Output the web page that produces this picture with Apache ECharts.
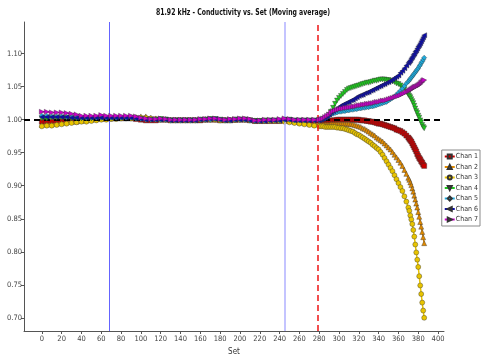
<!DOCTYPE html>
<html>
<head>
<meta charset="utf-8">
<script src="https://cdn.jsdelivr.net/npm/echarts@6/dist/echarts.min.js"></script>
<style>
  html, body { margin: 0; padding: 0; background: #fff; }
  #chart { width: 481px; height: 354px; }
</style>
</head>
<body>
<div id="chart"></div>
<script>
// Set numbers (x positions of the moving-average samples)
const sets = [
  0, 5, 10, 15, 20, 25, 30, 35, 40, 45,
  50, 55, 60, 65, 70, 75, 80, 85, 90, 95,
  100, 105, 110, 115, 120, 125, 130, 135, 140, 145,
  150, 155, 160, 165, 170, 175, 180, 185, 190, 195,
  200, 205, 210, 215, 220, 225, 230, 235, 240, 245,
  250, 255, 260, 265, 270, 275, 280,
  282, 284, 286, 288, 290, 292, 294, 296, 298, 300,
  302, 304, 306, 308, 310, 312, 314, 316, 318, 320,
  322, 324, 326, 328, 330, 332, 334, 336, 338, 340,
  342, 344, 346, 348, 350, 352, 354, 356, 358, 360,
  362, 364, 366, 368,
  370, 371, 372, 373, 374, 375, 376, 377, 378, 379,
  380, 381, 382, 383, 384, 385, 386
];

const chan1 = [
  0.997,0.997,0.997,0.998,0.998,0.999,0.999,1.000,1.000,1.001,
  1.001,1.002,1.002,1.002,1.002,1.002,1.002,1.002,1.002,1.001,
  1.000,0.999,0.999,0.999,1.000,1.000,0.999,0.999,0.999,0.999,
  0.999,0.999,0.999,1.000,1.000,1.000,0.999,0.999,0.999,1.000,
  1.000,1.000,0.999,0.998,0.998,0.998,0.998,0.998,0.998,0.999,
  0.999,0.998,0.998,0.998,0.998,0.998,0.998,
  0.998,0.998,0.998,0.998,0.998,0.999,0.999,0.999,1.000,1.000,
  1.000,1.000,1.000,1.000,1.000,1.000,1.000,1.000,1.000,1.000,
  0.999,0.999,0.999,0.998,0.998,0.997,0.997,0.996,0.995,0.994,
  0.994,0.993,0.992,0.991,0.990,0.989,0.988,0.987,0.985,0.984,
  0.983,0.981,0.979,0.976,
  0.973,0.971,0.969,0.967,0.964,0.961,0.958,0.955,0.952,0.948,
  0.945,0.942,0.940,0.937,0.935,0.932,0.930
];

const chan2 = [
  0.992,0.993,0.993,0.994,0.995,0.996,0.997,0.997,0.998,0.999,
  1.000,1.001,1.001,1.002,1.002,1.003,1.003,1.003,1.004,1.004,
  1.005,1.005,1.003,1.002,1.001,1.001,1.000,1.000,1.000,1.000,
  1.000,1.000,1.000,1.001,1.001,1.001,1.000,1.000,1.000,1.000,
  1.001,1.001,1.000,0.999,0.999,0.999,0.999,0.999,0.999,0.999,
  0.998,0.997,0.996,0.995,0.994,0.993,0.993,
  0.993,0.993,0.993,0.993,0.993,0.994,0.994,0.994,0.994,0.994,
  0.994,0.994,0.994,0.994,0.994,0.993,0.993,0.992,0.991,0.990,
  0.989,0.987,0.986,0.984,0.982,0.980,0.978,0.976,0.973,0.971,
  0.969,0.967,0.964,0.961,0.958,0.955,0.951,0.947,0.943,0.939,
  0.935,0.930,0.924,0.918,
  0.912,0.909,0.905,0.901,0.896,0.891,0.885,0.879,0.873,0.867,
  0.860,0.853,0.845,0.838,0.830,0.822,0.813
];

const chan3 = [
  0.990,0.991,0.991,0.992,0.993,0.994,0.995,0.996,0.997,0.997,
  0.998,0.999,1.000,1.000,1.001,1.001,1.002,1.002,1.002,1.003,
  1.003,1.003,1.002,1.001,1.000,1.000,0.999,0.999,0.999,0.999,
  0.999,0.999,1.000,1.000,1.000,1.000,0.999,0.999,0.999,1.000,
  1.000,1.000,0.999,0.998,0.998,0.998,0.998,0.998,0.998,0.997,
  0.996,0.995,0.994,0.993,0.992,0.991,0.990,
  0.990,0.990,0.989,0.989,0.989,0.989,0.989,0.989,0.988,0.988,
  0.987,0.987,0.986,0.985,0.984,0.983,0.982,0.980,0.978,0.977,
  0.975,0.973,0.971,0.969,0.967,0.965,0.962,0.960,0.957,0.955,
  0.951,0.947,0.942,0.937,0.932,0.927,0.922,0.916,0.910,0.904,
  0.898,0.892,0.884,0.876,
  0.867,0.862,0.855,0.849,0.842,0.833,0.823,0.811,0.799,0.788,
  0.777,0.763,0.749,0.736,0.723,0.711,0.700
];

const chan4 = [
  1.002,1.002,1.003,1.003,1.003,1.003,1.002,1.002,1.002,1.002,
  1.002,1.003,1.003,1.003,1.003,1.003,1.003,1.003,1.003,1.002,
  1.001,1.000,1.000,1.000,1.001,1.000,0.999,0.999,0.999,0.999,
  0.999,0.999,1.000,1.000,1.001,1.001,1.000,0.999,0.999,1.000,
  1.000,1.000,0.999,0.998,0.998,0.999,0.999,0.999,0.999,1.000,
  1.000,0.999,0.999,0.999,0.999,0.999,0.999,
  1.000,1.001,1.002,1.004,1.007,1.012,1.018,1.024,1.029,1.033,
  1.036,1.039,1.042,1.045,1.047,1.048,1.049,1.050,1.051,1.052,
  1.053,1.054,1.055,1.056,1.056,1.057,1.058,1.059,1.059,1.060,
  1.061,1.061,1.061,1.060,1.060,1.059,1.058,1.057,1.055,1.054,
  1.052,1.049,1.046,1.042,
  1.038,1.036,1.034,1.031,1.028,1.025,1.021,1.017,1.013,1.010,
  1.006,1.003,0.999,0.996,0.992,0.989,0.987
];

const chan5 = [
  1.006,1.006,1.005,1.005,1.005,1.004,1.004,1.004,1.003,1.003,
  1.003,1.003,1.003,1.003,1.003,1.003,1.003,1.003,1.003,1.002,
  1.001,1.000,1.000,1.000,1.000,1.000,0.999,0.999,0.999,0.999,
  0.999,0.999,1.000,1.000,1.000,1.001,1.000,0.999,0.999,1.000,
  1.000,1.000,0.999,0.998,0.998,0.998,0.999,0.999,0.999,1.000,
  1.000,0.999,0.999,0.999,0.999,0.999,0.999,
  1.000,1.001,1.002,1.004,1.006,1.008,1.009,1.010,1.011,1.012,
  1.012,1.013,1.013,1.014,1.014,1.015,1.015,1.016,1.016,1.017,
  1.017,1.018,1.018,1.019,1.019,1.020,1.020,1.021,1.022,1.023,
  1.024,1.025,1.026,1.027,1.029,1.031,1.033,1.035,1.038,1.041,
  1.044,1.047,1.051,1.055,
  1.058,1.060,1.062,1.064,1.066,1.068,1.070,1.072,1.074,1.076,
  1.078,1.081,1.083,1.086,1.088,1.091,1.094
];

const chan6 = [
  1.004,1.004,1.004,1.004,1.004,1.004,1.003,1.003,1.003,1.003,
  1.003,1.003,1.003,1.003,1.003,1.003,1.003,1.003,1.003,1.002,
  1.001,1.000,1.000,1.000,1.000,1.000,0.999,0.999,0.999,0.999,
  0.999,0.999,1.000,1.000,1.001,1.001,1.000,0.999,0.999,1.000,
  1.000,1.000,0.999,0.998,0.998,0.998,0.999,0.999,0.999,1.000,
  1.000,0.999,0.999,0.999,0.999,0.999,0.999,
  1.000,1.001,1.003,1.005,1.008,1.011,1.013,1.015,1.017,1.019,
  1.021,1.023,1.024,1.026,1.027,1.029,1.030,1.032,1.034,1.036,
  1.037,1.038,1.040,1.041,1.042,1.044,1.045,1.047,1.048,1.050,
  1.051,1.053,1.054,1.056,1.057,1.059,1.061,1.063,1.065,1.067,
  1.071,1.074,1.078,1.082,
  1.086,1.088,1.090,1.093,1.095,1.098,1.100,1.103,1.105,1.108,
  1.111,1.113,1.116,1.119,1.122,1.125,1.128
];

const chan7 = [
  1.012,1.012,1.011,1.011,1.011,1.010,1.009,1.008,1.006,1.006,
  1.006,1.006,1.007,1.006,1.006,1.006,1.006,1.006,1.006,1.005,
  1.003,1.002,1.001,1.001,1.002,1.001,1.000,1.000,1.000,1.000,
  1.000,1.000,1.001,1.001,1.002,1.002,1.001,1.000,1.001,1.001,
  1.002,1.002,1.001,0.999,0.999,1.000,1.000,1.000,1.001,1.002,
  1.001,1.000,1.000,1.000,1.000,1.000,1.000,
  1.001,1.002,1.004,1.006,1.008,1.011,1.013,1.014,1.015,1.016,
  1.017,1.017,1.018,1.018,1.019,1.019,1.020,1.020,1.021,1.022,
  1.022,1.023,1.023,1.024,1.024,1.025,1.025,1.026,1.027,1.027,
  1.028,1.029,1.029,1.030,1.031,1.032,1.033,1.034,1.035,1.036,
  1.037,1.039,1.040,1.042,
  1.043,1.044,1.045,1.046,1.047,1.048,1.049,1.050,1.050,1.051,
  1.052,1.053,1.054,1.056,1.057,1.059,1.060
];

const channelNames = ['Chan 1', 'Chan 2', 'Chan 3', 'Chan 4', 'Chan 5', 'Chan 6', 'Chan 7'];
const channelValues = [chan1, chan2, chan3, chan4, chan5, chan6, chan7];

// Tick labels
const xTicks = [0, 20, 40, 60, 80, 100, 120, 140, 160, 180, 200, 220, 240, 260, 280, 300, 320, 340, 360, 380, 400];
const yTicks = [0.70, 0.75, 0.80, 0.85, 0.90, 0.95, 1.00, 1.05, 1.10];

// Reference markers: event sets and the nominal (1.00) level
const eventSets = [68, 245, 279];
const nominalLevel = 1.00;

const titleText = '81.92 kHz - Conductivity vs. Set (Moving average)';

const FONT = "'Liberation Sans Narrow', 'Arial Narrow', 'DejaVu Sans Condensed', 'Liberation Sans', sans-serif";

const styles = [
  { color: '#c80000', symbol: 'rect', rotate: 0 },
  { color: '#e08a00', symbol: 'triangle', rotate: 0 },
  { color: '#e8c400', symbol: 'circle', rotate: 0 },
  { color: '#1ec81e', symbol: 'triangle', rotate: 180 },
  { color: '#1eaadc', symbol: 'diamond', rotate: 0 },
  { color: '#0c0caa', symbol: 'triangle', rotate: 90 },
  { color: '#cc00cc', symbol: 'triangle', rotate: -90 }
];

const chart = echarts.init(document.getElementById('chart'), null, { renderer: 'canvas' });

const series = [{
  name: 'refs',
  type: 'line',
  data: [],
  silent: true,
  z: 1,
  markLine: {
    silent: true,
    symbol: ['none', 'none'],
    label: { show: false },
    animation: false,
    data: [
      { xAxis: eventSets[0], lineStyle: { color: '#6464ff', width: 1, type: 'solid' } },
      { xAxis: eventSets[1], lineStyle: { color: '#b0b0ff', width: 1.5, type: 'solid' } },
      { xAxis: eventSets[2], lineStyle: { color: '#ee1515', width: 1.5, type: [6, 4] } },
      { yAxis: nominalLevel, lineStyle: { color: '#000', width: 2, type: [6, 4] } }
    ]
  }
}];

channelNames.forEach((name, k) => {
  const st = styles[k];
  series.push({
    name: name,
    type: 'line',
    z: 2 + k,
    data: sets.map((s, i) => [s, channelValues[k][i]]),
    symbol: st.symbol,
    symbolRotate: st.rotate,
    symbolSize: 5,
    showSymbol: true,
    showAllSymbol: true,
    lineStyle: { color: st.color, width: 1.5 },
    itemStyle: { color: st.color, borderColor: '#333', borderWidth: 0.4 },
    emphasis: { disabled: true }
  });
});

chart.setOption({
  animation: false,
  backgroundColor: '#fff',
  graphic: [{
    type: 'text',
    x: 243,
    y: 13,
    scaleX: 0.72,
    silent: true,
    style: {
      text: titleText,
      textAlign: 'center',
      textVerticalAlign: 'middle',
      fontFamily: FONT,
      fontSize: 9.5,
      fontWeight: 'bold',
      fill: '#111'
    }
  }],
  legend: {
    data: channelNames,
    orient: 'vertical',
    right: 1,
    top: 150,
    itemWidth: 10,
    itemHeight: 5,
    itemGap: 3.5,
    padding: [3, 2, 3, 2],
    backgroundColor: '#fff',
    borderColor: '#8a8a8a',
    borderWidth: 1,
    textStyle: { fontFamily: FONT, fontSize: 7, color: '#333', padding: [0, 0, 0, -4] }
  },
  grid: { left: 24, right: 37, top: 22, bottom: 23, containLabel: false, outerBoundsMode: 'none' },
  xAxis: {
    type: 'value',
    min: -18,
    max: 406,
    name: 'Set',
    nameLocation: 'middle',
    nameGap: 14,
    nameTextStyle: { fontFamily: FONT, fontSize: 8, color: '#333' },
    splitLine: { show: false },
    axisLine: { onZero: false, lineStyle: { color: '#555', width: 1 } },
    axisTick: { show: true, length: 3, customValues: xTicks, lineStyle: { color: '#555' } },
    axisLabel: {
      customValues: xTicks,
      margin: 4,
      fontFamily: FONT, fontSize: 7.5, color: '#444'
    }
  },
  yAxis: {
    type: 'value',
    min: 0.68,
    max: 1.148,
    name: 'Conductivity (%IACS) (Normalized)',
    nameLocation: 'middle',
    nameGap: 15,
    nameTextStyle: { fontFamily: FONT, fontSize: 7.5, color: '#333' },
    splitLine: { show: false },
    axisLine: { show: true, onZero: false, lineStyle: { color: '#555', width: 1 } },
    axisTick: { show: true, length: 3, customValues: yTicks, lineStyle: { color: '#555' } },
    axisLabel: {
      customValues: yTicks,
      margin: 2,
      formatter: v => v.toFixed(2),
      fontFamily: FONT, fontSize: 7.5, color: '#444'
    }
  },
  series: series
});
</script>
</body>
</html>
